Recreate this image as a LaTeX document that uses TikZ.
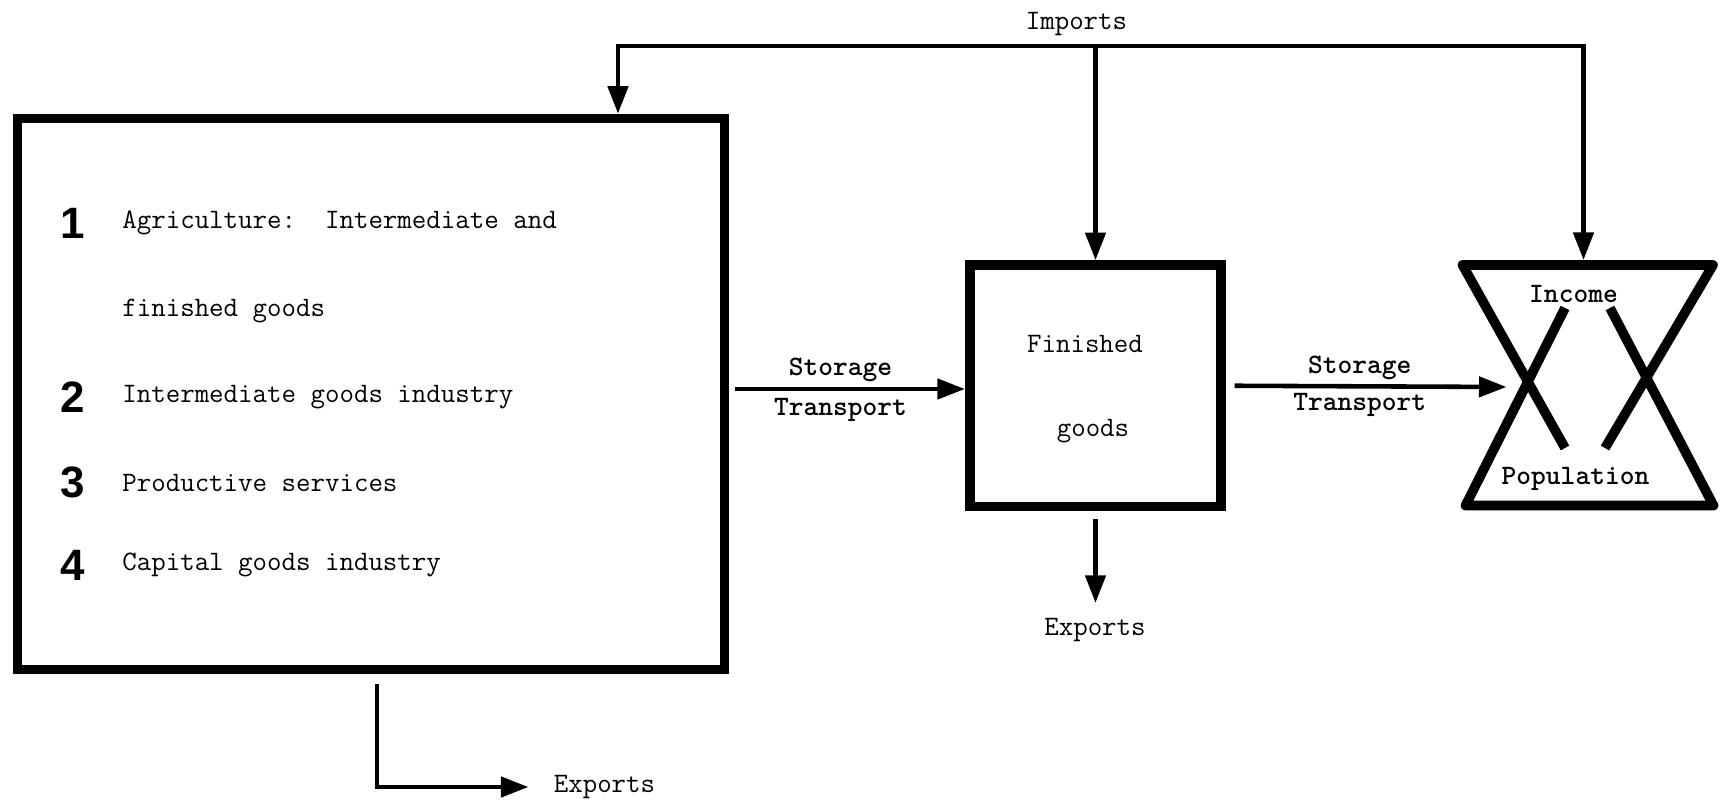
\documentclass[tikz,border=0pt]{standalone}
\usepackage{fontspec}
\setsansfont{Liberation Sans}
\usetikzlibrary{arrows.meta}

\begin{document}
\begin{tikzpicture}[
    heavy/.style={line width=5.5pt},
    flow/.style={line width=2.6pt, -{Triangle[length=5.5mm,width=4mm]}},
    txt/.style={font=\fontsize{16}{18}\selectfont\ttfamily, inner sep=0pt},
    btxt/.style={font=\fontsize{16}{18}\selectfont\ttfamily\bfseries, inner sep=0pt},
    num/.style={font=\fontsize{25}{28}\selectfont\sffamily\bfseries, inner sep=0pt}
  ]
  \useasboundingbox (0,0) rectangle (34.48,16.16);

  % Sectors
  \node[draw, heavy, minimum width=14.14cm, minimum height=11.02cm] (prod) at (7.42,8.28) {};
  \foreach \n/\y/\sector in {1/11.70/{Agriculture:\ \ Intermediate and},
      2/8.22/{Intermediate goods industry}, 3/6.51/{Productive services},
      4/4.86/{Capital goods industry}} {
    \node[num] (n\n) at (1.45,\y) {\n};
    \node[txt, anchor=west] (s\n) at (2.44,\y) {\sector};
  }
  \node[txt, anchor=west] (s1b) at (2.44,9.94) {finished goods};

  % Finished goods
  \node[draw, heavy, minimum width=5.03cm, minimum height=4.83cm] (fin) at (21.91,8.445) {};
  \node[txt] (fin1) at (21.70,9.28) {Finished};
  \node[txt] (fin2) at (21.86,7.54) {goods};

  % Income / population
  \coordinate (tl) at (29.25,10.86);
  \coordinate (tr) at (34.26,10.86);
  \coordinate (bl) at (29.31,6.05);
  \coordinate (br) at (34.27,6.05);
  \draw[heavy, line join=round] (31.30,7.20) -- (tl) -- (tr) -- (32.10,7.20);
  \draw[heavy, line join=round] (31.30,10.00) -- (bl) -- (br) -- (32.20,10.00);
  \node[btxt] (inc) at (31.47,10.29) {Income};
  \node[btxt] (pop) at (31.51,6.58) {Population};
  \coordinate (hgtop) at (31.67,10.96);
  \coordinate (hgin) at (30.13,8.42);

  % Imports
  \node[txt] (imp) at (21.53,15.68) {Imports};
  \coordinate (fork) at (21.91,15.24);
  \draw[flow] (fork) -| ([xshift=4.94cm]prod.north);
  \draw[flow] (fork) -- (fin.north);
  \draw[flow] (fork) -| (hgtop);

  % Storage and transport
  \coordinate (st1) at (14.69,8.38);
  \draw[flow] (st1) -- node[btxt, pos=0.46, above=1mm] (sto1) {Storage}
    node[btxt, pos=0.46, below=1.5mm] (tra1) {Transport} (st1 -| fin.west);
  \draw[flow] ([xshift=1.7mm]fin.east) -- node[btxt, pos=0.46, above=0.8mm] (sto2) {Storage}
    node[btxt, pos=0.46, below=0.9mm] (tra2) {Transport} (hgin);

  % Exports
  \node[txt] (exp1) at (12.09,0.42) {Exports};
  \node[txt] (exp2) at (21.90,3.56) {Exports};
  \draw[flow, shorten >=5mm] ([xshift=1.2mm,yshift=-2mm]prod.south) |- (exp1.west);
  \draw[flow, shorten >=3mm] ([yshift=-1.5mm]fin.south) -- (fin.south |- exp2.north);
\end{tikzpicture}
\end{document}
